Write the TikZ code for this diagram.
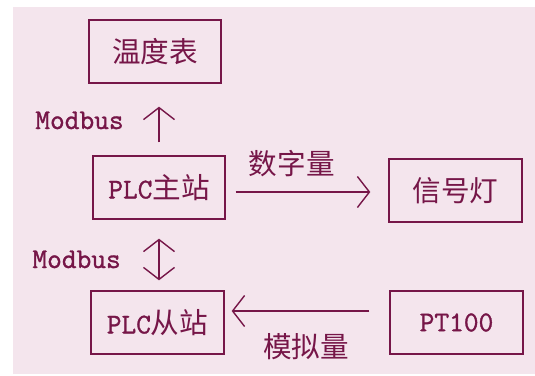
\documentclass[tikz,border=0pt]{standalone}
\usepackage{fontspec}
\newfontfamily\cjk{Noto Sans CJK SC}
\newfontfamily\mono[FakeBold=1.2]{Latin Modern Mono}
\usetikzlibrary{arrows.meta}
\definecolor{bgpink}{RGB}{244,229,237}
\definecolor{ink}{RGB}{118,22,72}
\begin{document}
\begin{tikzpicture}[x=1pt,y=-1pt,
  box/.style={draw=ink,line width=1.4pt,minimum width=132pt,minimum height=63pt,inner sep=0pt,text=ink},
  lbl/.style={text=ink,inner sep=0pt},
  arr/.style={draw=ink,line width=1.4pt,-{Straight Barb[length=12pt,width=31pt,line width=1.4pt]}},
  darr/.style={draw=ink,line width=1.4pt,{Straight Barb[length=12pt,width=31pt,line width=1.4pt]}-{Straight Barb[length=12pt,width=31pt,line width=1.4pt]}},
  font=\fontsize{28.6}{30}\selectfont]
\useasboundingbox (0,0) rectangle (535,375);
\fill[bgpink] (13,7) rectangle (535,374);
\node[box] (wdb) at (155,51.5) {\cjk 温度表};
\node[box] (master) at (159,187.5) {\mono PLC\cjk 主站};
\node[box,minimum width=133pt] (light) at (455.5,190.5) {\cjk 信号灯};
\node[box,minimum width=133pt] (slave) at (157.5,322.5) {\mono PLC\cjk 从站};
\node[box,minimum width=133pt] (pt) at (456.5,322.5) {\mono PT100};
% connectors
\draw[arr,shorten <=13pt,shorten >=23pt] (master.north) -- (master.north |- wdb.south);
\draw[darr,shorten <=19pt,shorten >=10pt] (master.south) -- (master.south |- slave.north);
\coordinate (r1) at ([yshift=-4.5pt]master.east);
\draw[arr,shorten <=10pt,shorten >=18pt] (r1) -- (r1 -| light.west);
\coordinate (r2) at ([yshift=11.5pt]pt.west);
\draw[arr,shorten <=20pt,shorten >=7pt] (r2) -- (r2 -| slave.east);
% labels
\node[lbl,anchor=base] (mb1) at (79.5,129) {\mono Modbus};
\node[lbl,anchor=base] (mb2) at (76.6,268) {\mono Modbus};
\node[lbl] (szl) at (291.7,163.5) {\cjk 数字量};
\node[lbl] (mnl) at (306,347) {\cjk 模拟量};
\end{tikzpicture}
\end{document}
